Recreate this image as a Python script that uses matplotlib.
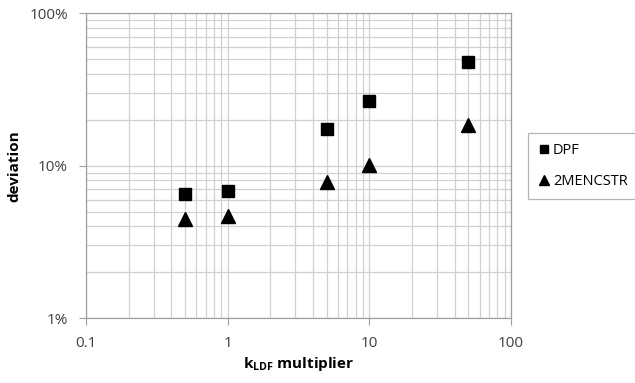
import matplotlib
matplotlib.use("Agg")
import matplotlib.pyplot as plt
from matplotlib.ticker import LogLocator, FixedLocator, NullFormatter

plt.rcParams['font.family'] = ['Open Sans', 'DejaVu Sans']
plt.rcParams['mathtext.default'] = 'regular'

# k_LDF multiplier values and deviations (fraction)
k_mult = [0.5, 1, 5, 10, 50]
dpf = [0.065, 0.0685, 0.173, 0.265, 0.48]
two_mencstr = [0.0448, 0.0471, 0.078, 0.101, 0.186]

fig = plt.figure(figsize=(6.35, 3.83), dpi=100)
ax = fig.add_axes([0.1354, 0.1697, 0.6693, 0.7951])

ax.plot(k_mult, dpf, 's', color='black', markersize=8.5, label='DPF')
ax.plot(k_mult, two_mencstr, '^', color='black', markersize=10, label='2MENCSTR')

ax.set_xscale('log')
ax.set_yscale('log')
ax.set_xlim(0.1, 100)
ax.set_ylim(0.01, 1)

ax.xaxis.set_major_locator(FixedLocator([0.1, 1, 10, 100]))
ax.yaxis.set_major_locator(FixedLocator([0.01, 0.1, 1]))
ax.xaxis.set_minor_locator(LogLocator(base=10, subs=range(2, 10)))
ax.yaxis.set_minor_locator(LogLocator(base=10, subs=range(2, 10)))
ax.xaxis.set_minor_formatter(NullFormatter())
ax.yaxis.set_minor_formatter(NullFormatter())
ax.set_xticklabels(['0.1', '1', '10', '100'])
ax.set_yticklabels(['1%', '10%', '100%'])

ax.grid(True, which='both', color='#d0d0d0', linewidth=0.9)
ax.set_axisbelow(True)
for s in ax.spines.values():
    s.set_color('#a0a0a0')
    s.set_linewidth(0.9)
ax.tick_params(which='major', length=5, color='#a0a0a0', labelsize=11, labelcolor='#404040', pad=8)
ax.tick_params(which='minor', length=0)

ax.set_xlabel('k$_{LDF}$ multiplier', fontsize=11, fontweight='bold', labelpad=3)
ax.set_ylabel('deviation', fontsize=11, fontweight='bold', labelpad=6)

leg = ax.legend(loc='center left', bbox_to_anchor=(1.04, 0.5), frameon=True, fancybox=False,
                fontsize=10.5, handletextpad=0.2, handlelength=0.8, labelspacing=1.1,
                borderpad=0.7, borderaxespad=0, markerscale=0.72)
leg.get_frame().set_edgecolor('#a0a0a0')
leg.get_frame().set_linewidth(0.9)

fig.savefig('out.png', dpi=100)
